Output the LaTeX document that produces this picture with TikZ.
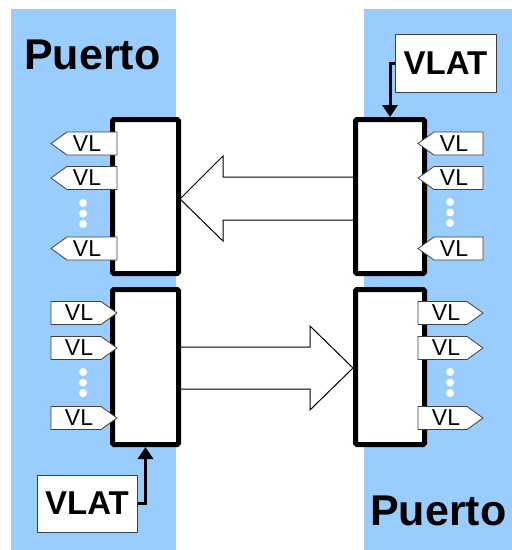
\documentclass[tikz,border=0pt]{standalone}
\usepackage{fontspec}
\setmainfont{Liberation Sans}
\usetikzlibrary{arrows.meta}
\definecolor{band}{RGB}{153,204,255}
\tikzset{
  portbox/.style={draw=black, line width=5pt, fill=white, rounded corners=1.5pt, inner sep=0pt},
  bigarrow/.style={draw=black, line width=1pt, fill=white, line join=miter},
  tagline/.style={draw=black!75, line width=0.8pt, fill=white},
  vltext/.style={inner sep=0pt, font=\fontsize{23}{25}\selectfont},
  vlatbox/.style={draw=black!75, line width=1pt, fill=white, minimum width=100pt, minimum height=57pt, inner sep=0pt, font=\bfseries\fontsize{33}{36}\selectfont},
  vlatarrow/.style={line width=3pt, -{Triangle[width=15pt,length=12pt]}},
  puerto/.style={inner sep=0pt, anchor=base west, font=\bfseries\fontsize{43}{48}\selectfont},
  wdot/.style={fill=white, draw=none}
}
\newcommand\vlleft[4]{%
  \draw[tagline] (#3,#2) -- (#3+16,#2-11.5) -- (#4,#2-11.5) -- (#4,#2+11.5) -- (#3+16,#2+11.5) -- cycle;
  \node[vltext] (#1) at (#3+36,#2) {VL};}
\newcommand\vlright[4]{%
  \draw[tagline] (#3,#2-11.5) -- (#4-16,#2-11.5) -- (#4,#2) -- (#4-16,#2+11.5) -- (#3,#2+11.5) -- cycle;
  \node[vltext] (#1) at (#3+28,#2) {VL};}
\newcommand\vldots[2]{%
  \fill[wdot] (#1,#2) circle (4);
  \fill[wdot] (#1,#2+10.5) circle (4);
  \fill[wdot] (#1,#2+21) circle (4);}
\begin{document}
\begin{tikzpicture}[x=1pt,y=-1pt]
\useasboundingbox (0,0) rectangle (512,550);
% bands
\fill[band] (11,9) rectangle (176,550);
\fill[band] (364,9) rectangle (512,550);
% titles
\node[puerto] (p1) at (24,69) {Puerto};
\node[puerto] (p2) at (370,525) {Puerto};
% big arrows
\draw[bigarrow] (180,199) -- (223,156) -- (223,177) -- (356,177) -- (356,220) -- (223,220) -- (223,241) -- cycle;
\draw[bigarrow] (353,368) -- (310,326) -- (310,347) -- (178,347) -- (178,389) -- (310,389) -- (310,410) -- cycle;
% boxes
\node[portbox, minimum width=66pt, minimum height=154pt] (upL) at (145.5,196.5) {};
\node[portbox, minimum width=66pt, minimum height=155pt] (loL) at (145.5,367) {};
\node[portbox, minimum width=69pt, minimum height=154pt] (upR) at (390,196.5) {};
\node[portbox, minimum width=69pt, minimum height=155pt] (loR) at (390,367) {};
% tags
\vlleft{a1}{143.5}{51}{117}
\vlleft{a2}{178}{51}{117}
\vlleft{a3}{248.5}{51}{117}
\vldots{83}{203}
\vlright{b1}{313}{51}{117}
\vlright{b2}{348}{51}{117}
\vlright{b3}{418}{51}{117}
\vldots{83}{372}
\vlleft{c1}{143.5}{418}{483}
\vlleft{c2}{178}{418}{483}
\vlleft{c3}{248.5}{418}{483}
\vldots{450}{202}
\vlright{d1}{313}{418}{483}
\vlright{d2}{348}{418}{483}
\vlright{d3}{418}{418}{483}
\vldots{450}{372}
% VLAT
\node[vlatbox] (vlat1) at (87,503.5) {VLAT};
\node[vlatbox, minimum width=101pt, minimum height=58pt] (vlat2) at (445.5,63) {VLAT};
\draw[vlatarrow] (vlat1.east) -| (loL.south);
\draw[vlatarrow] (vlat2.west) -| (upR.north);
\end{tikzpicture}
\end{document}
